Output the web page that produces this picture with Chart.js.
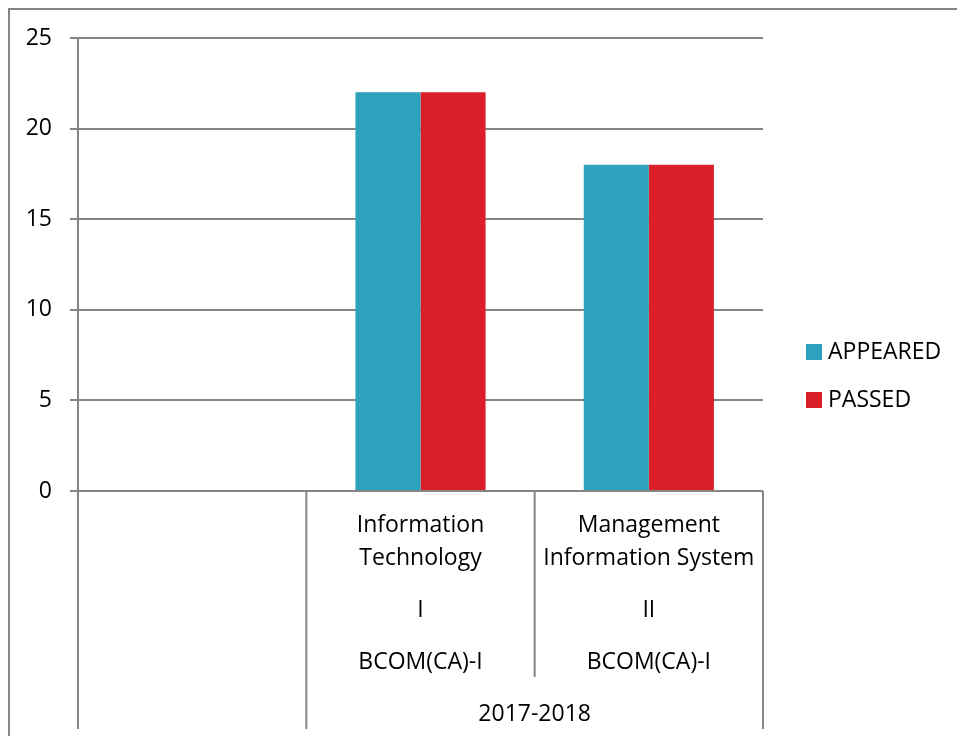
<!DOCTYPE html>
<html>
<head>
<meta charset="utf-8">
<script src="https://cdn.jsdelivr.net/npm/chart.js@4.4.1/dist/chart.umd.min.js"></script>
<style>
  html, body { margin: 0; padding: 0; background: #fff; overflow: hidden; }
</style>
</head>
<body>
<canvas id="chart" width="957" height="736"></canvas>
<script>
// categories (first slot is an empty category, as in the source sheet)
const categories = ['', 'Information Technology', 'Management Information System'];
const subjectLines = [[], ['Information', 'Technology'], ['Management', 'Information System']];
const semesters = ['', 'I', 'II'];
const classes = ['', 'BCOM(CA)-I', 'BCOM(CA)-I'];
const yearLabel = '2017-2018';
const yearSpan = [1, 2]; // first and last category under the year label

const appeared = [null, 22, 18];
const passed = [null, 22, 18];

const yTicks = { min: 0, max: 25, step: 5 };

const FONT = '"Open Sans", Lato, sans-serif';
const GRID = '#858585';
const COLORS = { appeared: '#2ca2bf', passed: '#da1f28' };

const decor = {
    id: 'decor',
    afterDraw(chart) {
        const ctx = chart.ctx;
        const x = chart.scales.x;
        const area = chart.chartArea;
        const half = (x.getPixelForValue(1) - x.getPixelForValue(0)) / 2;
        const bounds = [];
        for (let i = 0; i <= categories.length; i++) {
            bounds.push(i < categories.length ? x.getPixelForValue(i) - half : x.getPixelForValue(i - 1) + half);
        }
        const bottom = 729;

        ctx.save();
        // outer frame
        ctx.strokeStyle = GRID;
        ctx.lineWidth = 2;
        ctx.beginPath();
        ctx.moveTo(9, 736);
        ctx.lineTo(9, 9);
        ctx.lineTo(957, 9);
        ctx.stroke();

        // category separators below the axis
        ctx.beginPath();
        ctx.moveTo(bounds[0], area.top);
        ctx.lineTo(bounds[0], bottom);
        ctx.moveTo(bounds[1], area.bottom);
        ctx.lineTo(bounds[1], bottom);
        ctx.moveTo(bounds[2], area.bottom);
        ctx.lineTo(bounds[2], area.bottom + 186);
        ctx.moveTo(bounds[3], area.bottom);
        ctx.lineTo(bounds[3], bottom);
        ctx.stroke();

        // category labels
        ctx.fillStyle = '#000';
        ctx.font = '23px ' + FONT;
        ctx.textAlign = 'center';
        ctx.textBaseline = 'middle';
        categories.forEach((c, i) => {
            const cx = x.getPixelForValue(i);
            subjectLines[i].forEach((line, j) => ctx.fillText(line, cx, area.bottom + 34 + j * 33));
            ctx.fillText(semesters[i], cx, area.bottom + 119);
            ctx.fillText(classes[i], cx, area.bottom + 171);
        });
        ctx.fillText(yearLabel, (bounds[yearSpan[0]] + bounds[yearSpan[1] + 1]) / 2, area.bottom + 223);

        // legend
        ctx.textAlign = 'left';
        chart.data.datasets.forEach((ds, i) => {
            const cy = 352 + i * 48;
            ctx.fillStyle = ds.backgroundColor;
            ctx.fillRect(806, cy - 8, 16, 16);
            ctx.fillStyle = '#000';
            ctx.fillText(ds.label, 828, cy);
        });
        ctx.restore();
    }
};

new Chart(document.getElementById('chart').getContext('2d'), {
    type: 'bar',
    data: {
        labels: categories,
        datasets: [
            { label: 'APPEARED', data: appeared, backgroundColor: COLORS.appeared },
            { label: 'PASSED', data: passed, backgroundColor: COLORS.passed }
        ]
    },
    options: {
        responsive: false,
        animation: false,
        layout: { padding: { top: 38, right: 194, left: 0, bottom: 0 } },
        datasets: { bar: { categoryPercentage: 0.57, barPercentage: 1 } },
        plugins: {
            legend: { display: false },
            tooltip: { enabled: false }
        },
        scales: {
            x: {
                grid: { display: false },
                border: { display: false },
                ticks: { display: false },
                afterFit(s) { s.height = 245; }
            },
            y: {
                min: yTicks.min,
                max: yTicks.max,
                ticks: { stepSize: yTicks.step, padding: 18, color: '#000', font: { family: FONT, size: 23 } },
                grid: { color: GRID, lineWidth: 2, tickLength: 8 },
                border: { color: GRID, width: 2 },
                afterFit(s) { s.width = 78; }
            }
        }
    },
    plugins: [decor]
});
</script>
</body>
</html>
